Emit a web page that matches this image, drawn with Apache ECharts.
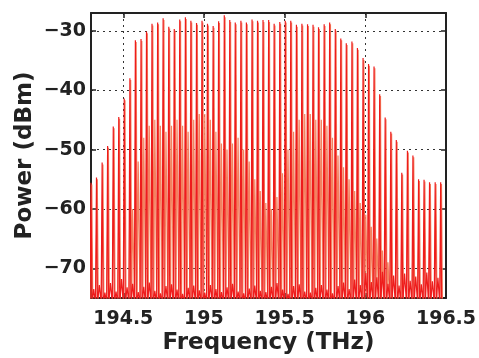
<!DOCTYPE html>
<html>
<head>
<meta charset="utf-8">
<script src="https://cdn.jsdelivr.net/npm/echarts@6/dist/echarts.min.js"></script>
<style>
html, body { margin: 0; padding: 0; background: #fff; }
#chart { width: 479px; height: 358px; }
</style>
</head>
<body>
<div id="chart"></div>
<script>
// comb line frequencies (THz)
var combFreq = [
  194.300, 194.334, 194.369, 194.403, 194.438, 194.472, 194.506, 194.541, 194.575, 194.610,
  194.644, 194.678, 194.713, 194.747, 194.782, 194.816, 194.850, 194.885, 194.919, 194.954,
  194.988, 195.022, 195.057, 195.091, 195.126, 195.160, 195.194, 195.229, 195.263, 195.298,
  195.332, 195.366, 195.401, 195.435, 195.470, 195.504, 195.538, 195.573, 195.607, 195.642,
  195.676, 195.710, 195.745, 195.779, 195.814, 195.848, 195.882, 195.917, 195.951, 195.986,
  196.020, 196.054, 196.089, 196.123, 196.158, 196.192, 196.226, 196.261, 196.295, 196.330,
  196.364, 196.398, 196.433, 196.467
];
// comb line peak power (dBm)
var combPeak = [
  -55.6, -54.7, -52.2, -49.4, -46.1, -44.5, -41.4, -38.0, -31.6, -31.4,
  -30.1, -28.8, -28.6, -27.9, -29.3, -29.7, -28.1, -27.7, -28.3, -28.7,
  -28.3, -28.8, -29.2, -28.4, -27.4, -28.2, -28.6, -28.3, -28.6, -28.1,
  -28.3, -28.2, -28.2, -28.8, -28.5, -28.3, -28.3, -29.0, -28.8, -28.9,
  -29.0, -29.4, -28.9, -28.6, -29.7, -31.3, -32.1, -31.8, -32.9, -34.6,
  -35.6, -36.0, -40.7, -44.6, -47.0, -48.4, -53.9, -50.2, -51.0, -55.0,
  -55.1, -55.5, -55.5, -55.5
];
// noise floor between lines (dBm)
var redFloor = [
  -73.5, -72.8, -74.1, -72.5, -73.9, -71.8, -73.2, -72.6, -74.0, -73.1,
  -72.4, -73.8, -74.2, -73.0, -72.7, -73.6, -74.3, -73.3, -72.9, -73.7,
  -74.1, -72.8, -73.5, -74.0, -73.2, -72.6, -73.9, -74.2, -73.4, -72.9,
  -73.8, -74.0, -73.1, -72.5, -73.6, -74.3, -73.0, -72.7, -73.9, -74.1,
  -73.3, -72.8, -73.6, -74.2, -73.0, -72.4, -73.5, -71.9, -72.8, -70.8,
  -72.3, -71.5, -70.6, -72.6, -71.2, -72.9, -70.9, -72.1, -71.4, -72.7,
  -70.7, -72.2, -71.6
];
// second trace: level between lines (dBm)
var midPeak = [
  -76, -76, -76, -76, -76, -76, -76, -60, -52, -48,
  -46, -45, -46, -47, -46, -45, -46, -47, -45, -44,
  -44, -45, -47, -49, -50, -49, -48, -50, -52, -55,
  -57, -59, -60, -58, -54, -50, -47, -45, -44, -44,
  -45, -45, -46, -48, -51, -53, -55, -57, -59, -61,
  -63, -65, -67, -69, -76, -76, -76, -76, -76, -76,
  -76, -76, -76
];
var xTicks = [194.5, 195, 195.5, 196, 196.5];
var yTicks = [-70, -60, -50, -40, -30];

var hw = 0.006;      // half width of a comb line
var midHw = 0.012;   // half width of the in-between feature
var shift = 0.005;
var lowLevel = -76;

var redData = [];
var orangeData = [];
combFreq.forEach(function (f, i) {
  redData.push([f - hw, lowLevel], [f, combPeak[i]], [f + hw, lowLevel]);
  var fo = f + shift;
  orangeData.push([fo - hw, lowLevel], [fo, combPeak[i] - 0.3], [fo + hw, lowLevel]);
  if (i < combFreq.length - 1) {
    var g = (f + combFreq[i + 1]) / 2;
    redData.push([g, redFloor[i]]);
    orangeData.push([g - midHw, lowLevel], [g, midPeak[i]], [g + midHw, lowLevel]);
  }
});

var chart = echarts.init(document.getElementById('chart'));
var fontFamily = 'DejaVu Sans';
var gridLine = { show: true, lineStyle: { color: '#333', width: 1, type: [2, 4] } };

function xAxisDef(pos, showLabel) {
  return {
    type: 'value',
    position: pos,
    min: 194.3,
    max: 196.5,
    name: showLabel ? 'Frequency (THz)' : '',
    nameLocation: 'middle',
    nameGap: 34,
    nameMoveOverlap: false,
    nameTextStyle: { fontFamily: fontFamily, fontWeight: 'bold', fontSize: 23, color: '#222' },
    axisLine: { onZero: false, lineStyle: { color: '#222', width: 2 } },
    axisTick: { show: true, inside: true, length: 5, customValues: xTicks, lineStyle: { color: '#222', width: 1.5 } },
    axisLabel: {
      show: showLabel, customValues: xTicks, margin: 12,
      fontFamily: fontFamily, fontWeight: 'bold', fontSize: 19, color: '#222',
      formatter: function (v) { return String(v); }
    },
    splitLine: showLabel ? gridLine : { show: false }
  };
}
function yAxisDef(pos, showLabel) {
  return {
    type: 'value',
    position: pos,
    min: -75,
    max: -27,
    name: showLabel ? 'Power (dBm)' : '',
    nameLocation: 'middle',
    nameRotate: 90,
    nameGap: 54,
    nameMoveOverlap: false,
    nameTextStyle: { fontFamily: fontFamily, fontWeight: 'bold', fontSize: 23, color: '#222' },
    axisLine: { onZero: false, lineStyle: { color: '#222', width: 2 } },
    axisTick: { show: true, inside: true, length: 5, customValues: yTicks, lineStyle: { color: '#222', width: 1.5 } },
    axisLabel: {
      show: showLabel, customValues: yTicks, margin: 5,
      fontFamily: fontFamily, fontWeight: 'bold', fontSize: 19, color: '#222',
      formatter: function (v) { return String(v).replace('-', '\u2212'); }
    },
    splitLine: showLabel ? gridLine : { show: false }
  };
}

chart.setOption({
  animation: false,
  backgroundColor: '#fff',
  grid: { left: 91, right: 33, top: 13, bottom: 60, outerBoundsMode: 'none' },
  xAxis: [xAxisDef('bottom', true), xAxisDef('top', false)],
  yAxis: [yAxisDef('left', true), yAxisDef('right', false)],
  series: [
    {
      name: 'trace 2',
      type: 'line',
      data: orangeData,
      showSymbol: false,
      clip: true,
      lineStyle: { color: '#f4815f', width: 1.2 },
      z: 2
    },
    {
      name: 'trace 1',
      type: 'line',
      data: redData,
      showSymbol: false,
      clip: true,
      lineStyle: { color: '#ee1c1c', width: 1.2 },
      z: 3
    }
  ]
});
</script>
</body>
</html>
